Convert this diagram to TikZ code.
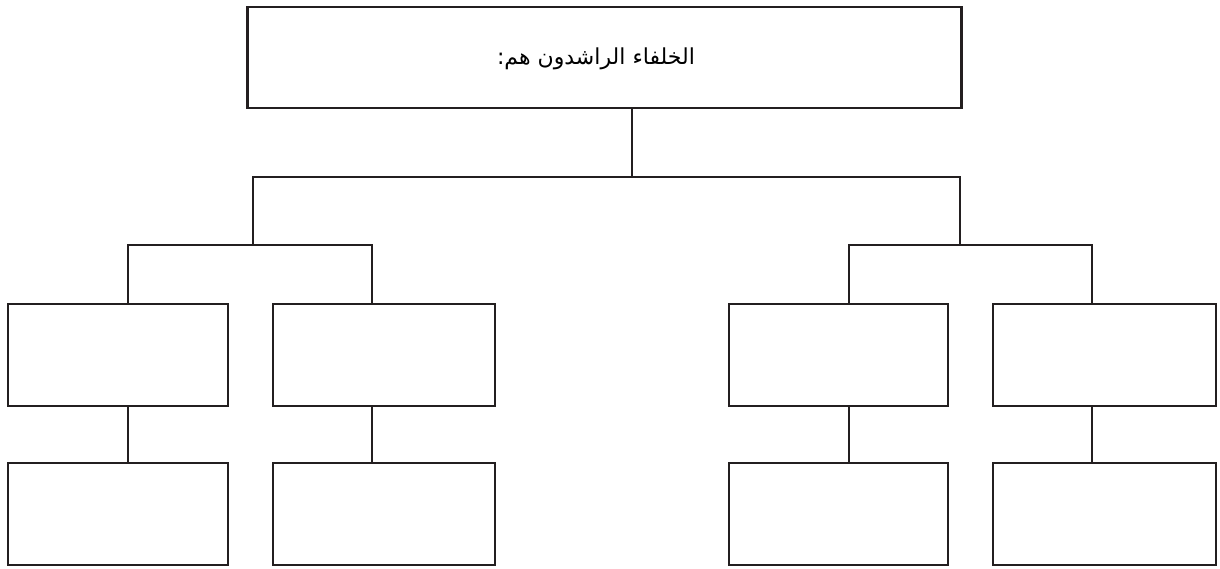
\documentclass[tikz,border=0pt]{standalone}
\usepackage{fontspec}
\TeXXeTstate=1
\newfontfamily\arabicfont[Script=Arabic]{DejaVu Sans}
\definecolor{ink}{HTML}{231F20}
\begin{document}
\begin{tikzpicture}[x=1pt,y=-1pt,
  boxstyle/.style={draw=ink,line width=2.6pt,rectangle,inner sep=0pt,minimum height=102pt},
  conn/.style={draw=ink,line width=2.1pt}]
\useasboundingbox (0,0) rectangle (1220,568);
% top box
\node[boxstyle,minimum width=714pt,minimum height=101pt] (top) at (604.5,57.5) {};
\node (title) at (596,59) {\fontsize{22pt}{26pt}\selectfont\arabicfont\beginR الخلفاء الراشدون هم:\endR};
% row 1
\node[boxstyle,minimum width=220pt] (b1) at (118,355) {};
\node[boxstyle,minimum width=222pt] (b2) at (384,355) {};
\node[boxstyle,minimum width=219pt] (b3) at (838.5,355) {};
\node[boxstyle,minimum width=223pt] (b4) at (1104.5,355) {};
% row 2
\node[boxstyle,minimum width=220pt] (c1) at (118,514) {};
\node[boxstyle,minimum width=222pt] (c2) at (384,514) {};
\node[boxstyle,minimum width=219pt] (c3) at (838.5,514) {};
\node[boxstyle,minimum width=223pt] (c4) at (1104.5,514) {};
% junctions
\coordinate (j0) at (632,177);
\coordinate (jl) at (253,245);
\coordinate (jr) at (960,245);
\coordinate (x1) at (128,245);
\coordinate (x2) at (372,245);
\coordinate (x3) at (849,245);
\coordinate (x4) at (1092,245);
% connectors
\draw[conn] (top.south -| j0) -- (j0);
\draw[conn] (jl) -- (jl |- j0) -- (jr |- j0) -- (jr);
\draw[conn] (b1.north -| x1) -- (x1) -- (x2) -- (b2.north -| x2);
\draw[conn] (b3.north -| x3) -- (x3) -- (x4) -- (b4.north -| x4);
\draw[conn] (b1.south -| x1) -- (c1.north -| x1);
\draw[conn] (b2.south -| x2) -- (c2.north -| x2);
\draw[conn] (b3.south -| x3) -- (c3.north -| x3);
\draw[conn] (b4.south -| x4) -- (c4.north -| x4);
\end{tikzpicture}
\end{document}
